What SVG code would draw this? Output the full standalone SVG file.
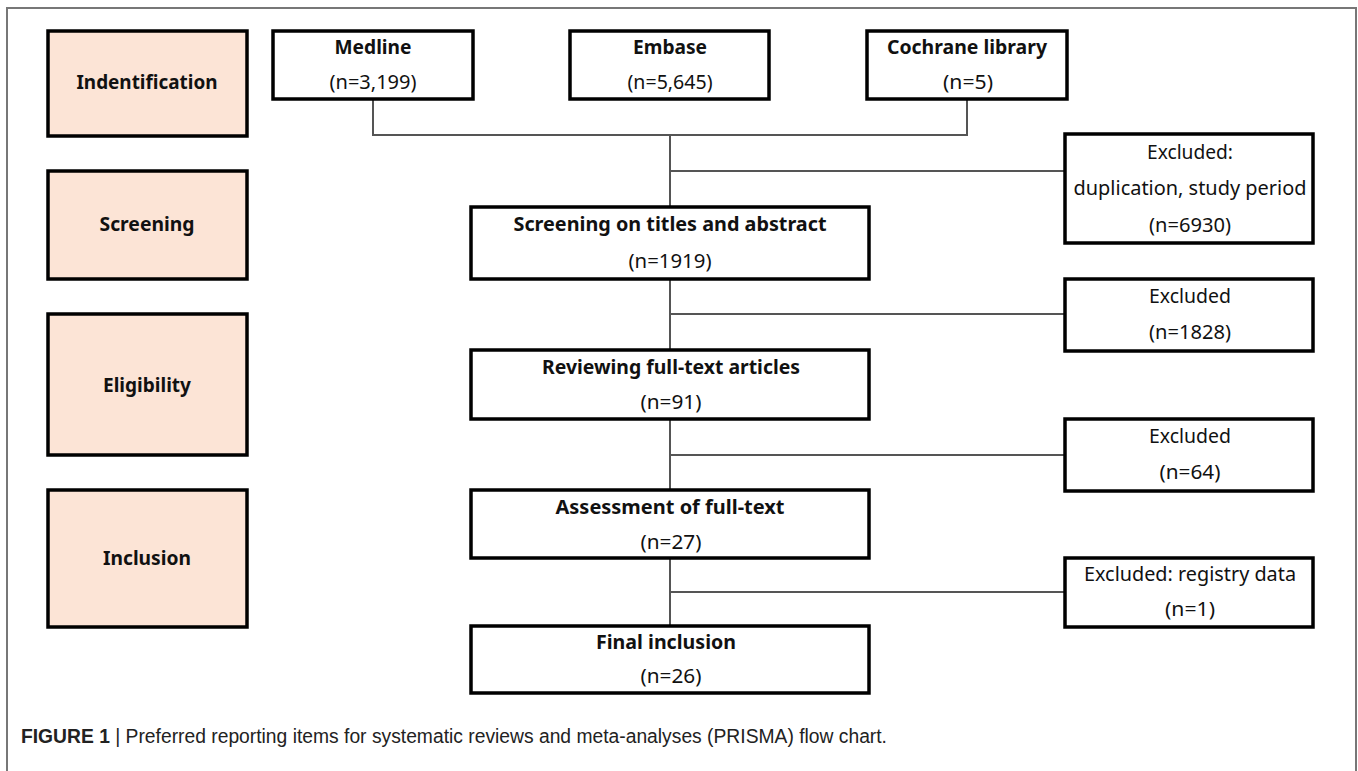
<svg xmlns="http://www.w3.org/2000/svg" width="1358" height="771" viewBox="0 0 1358 771">
<style>
.bg{fill:#ffffff}
.frame{fill:none;stroke:#777777;stroke-width:2}
.stage{fill:#FCE4D6;stroke:#000000;stroke-width:3.5}
.box{fill:#ffffff;stroke:#000000;stroke-width:3.5}
.conn{fill:none;stroke:#555555;stroke-width:2}
text{font-family:"Noto Sans","Open Sans",sans-serif;font-size:19px;fill:#111111;text-anchor:middle}
.b{font-weight:bold}
.cap{font-family:"Liberation Sans Narrow","Liberation Sans",Arial,sans-serif;font-size:19.5px;text-anchor:start;fill:#222222}
</style>
<rect class="bg" x="0" y="0" width="1358" height="771"/>
<rect class="frame" x="7" y="8" width="1349" height="780"/>

<g id="connectors">
<path class="conn" d="M373,99 V135 H967 V99"/>
<path class="conn" d="M670,135 V207"/>
<path class="conn" d="M670,171 H1065"/>
<path class="conn" d="M670,279 V350"/>
<path class="conn" d="M670,314 H1065"/>
<path class="conn" d="M670,419 V490"/>
<path class="conn" d="M670,455 H1065"/>
<path class="conn" d="M670,558 V626"/>
<path class="conn" d="M670,592 H1065"/>
</g>

<g id="stage-identification">
<rect class="stage" x="48" y="31" width="199" height="105"/>
<text class="b" x="147" y="89" textLength="141" lengthAdjust="spacingAndGlyphs">Indentification</text>
</g>
<g id="stage-screening">
<rect class="stage" x="48" y="171" width="199" height="108"/>
<text class="b" x="147" y="231" textLength="95" lengthAdjust="spacingAndGlyphs">Screening</text>
</g>
<g id="stage-eligibility">
<rect class="stage" x="48" y="314" width="199" height="141"/>
<text class="b" x="147" y="392" textLength="88" lengthAdjust="spacingAndGlyphs">Eligibility</text>
</g>
<g id="stage-inclusion">
<rect class="stage" x="48" y="490" width="199" height="137"/>
<text class="b" x="147" y="565" textLength="88" lengthAdjust="spacingAndGlyphs">Inclusion</text>
</g>

<g id="medline">
<rect class="box" x="273" y="31" width="200" height="68"/>
<text class="b" x="373" y="54" textLength="77" lengthAdjust="spacingAndGlyphs">Medline</text>
<text x="373" y="89" textLength="87" lengthAdjust="spacingAndGlyphs">(n=3,199)</text>
</g>
<g id="embase">
<rect class="box" x="570" y="31" width="199" height="68"/>
<text class="b" x="670" y="54" textLength="74" lengthAdjust="spacingAndGlyphs">Embase</text>
<text x="670" y="89" textLength="85" lengthAdjust="spacingAndGlyphs">(n=5,645)</text>
</g>
<g id="cochrane">
<rect class="box" x="867" y="31" width="200" height="68"/>
<text class="b" x="967" y="54" textLength="160" lengthAdjust="spacingAndGlyphs">Cochrane library</text>
<text x="968" y="89" textLength="50" lengthAdjust="spacingAndGlyphs">(n=5)</text>
</g>

<g id="excluded-1">
<rect class="box" x="1065" y="134" width="248" height="109"/>
<text x="1190" y="159" textLength="86" lengthAdjust="spacingAndGlyphs">Excluded:</text>
<text x="1190" y="195" textLength="233" lengthAdjust="spacingAndGlyphs">duplication, study period</text>
<text x="1190" y="232" textLength="82" lengthAdjust="spacingAndGlyphs">(n=6930)</text>
</g>
<g id="screening-box">
<rect class="box" x="471" y="207" width="398" height="72"/>
<text class="b" x="670" y="231" textLength="313" lengthAdjust="spacingAndGlyphs">Screening on titles and abstract</text>
<text x="670" y="268" textLength="83" lengthAdjust="spacingAndGlyphs">(n=1919)</text>
</g>
<g id="excluded-2">
<rect class="box" x="1065" y="279" width="248" height="72"/>
<text x="1190" y="303" textLength="82" lengthAdjust="spacingAndGlyphs">Excluded</text>
<text x="1190" y="339" textLength="82" lengthAdjust="spacingAndGlyphs">(n=1828)</text>
</g>
<g id="reviewing-box">
<rect class="box" x="471" y="350" width="398" height="69"/>
<text class="b" x="671" y="374" textLength="258" lengthAdjust="spacingAndGlyphs">Reviewing full-text articles</text>
<text x="671" y="409" textLength="61" lengthAdjust="spacingAndGlyphs">(n=91)</text>
</g>
<g id="excluded-3">
<rect class="box" x="1065" y="419" width="248" height="72"/>
<text x="1190" y="443" textLength="82" lengthAdjust="spacingAndGlyphs">Excluded</text>
<text x="1190" y="479" textLength="61" lengthAdjust="spacingAndGlyphs">(n=64)</text>
</g>
<g id="assessment-box">
<rect class="box" x="471" y="490" width="398" height="68"/>
<text class="b" x="670" y="514" textLength="229" lengthAdjust="spacingAndGlyphs">Assessment of full-text</text>
<text x="671" y="549" textLength="61" lengthAdjust="spacingAndGlyphs">(n=27)</text>
</g>
<g id="excluded-4">
<rect class="box" x="1065" y="558" width="248" height="69"/>
<text x="1190" y="581" textLength="212" lengthAdjust="spacingAndGlyphs">Excluded: registry data</text>
<text x="1190" y="616" textLength="50" lengthAdjust="spacingAndGlyphs">(n=1)</text>
</g>
<g id="final-box">
<rect class="box" x="471" y="626" width="398" height="67"/>
<text class="b" x="666" y="649" textLength="140" lengthAdjust="spacingAndGlyphs">Final inclusion</text>
<text x="671" y="683" textLength="61" lengthAdjust="spacingAndGlyphs">(n=26)</text>
</g>

<text class="cap" x="21" y="743" textLength="866" lengthAdjust="spacingAndGlyphs"><tspan font-weight="bold">FIGURE 1</tspan> | Preferred reporting items for systematic reviews and meta-analyses (PRISMA) flow chart.</text>
</svg>
